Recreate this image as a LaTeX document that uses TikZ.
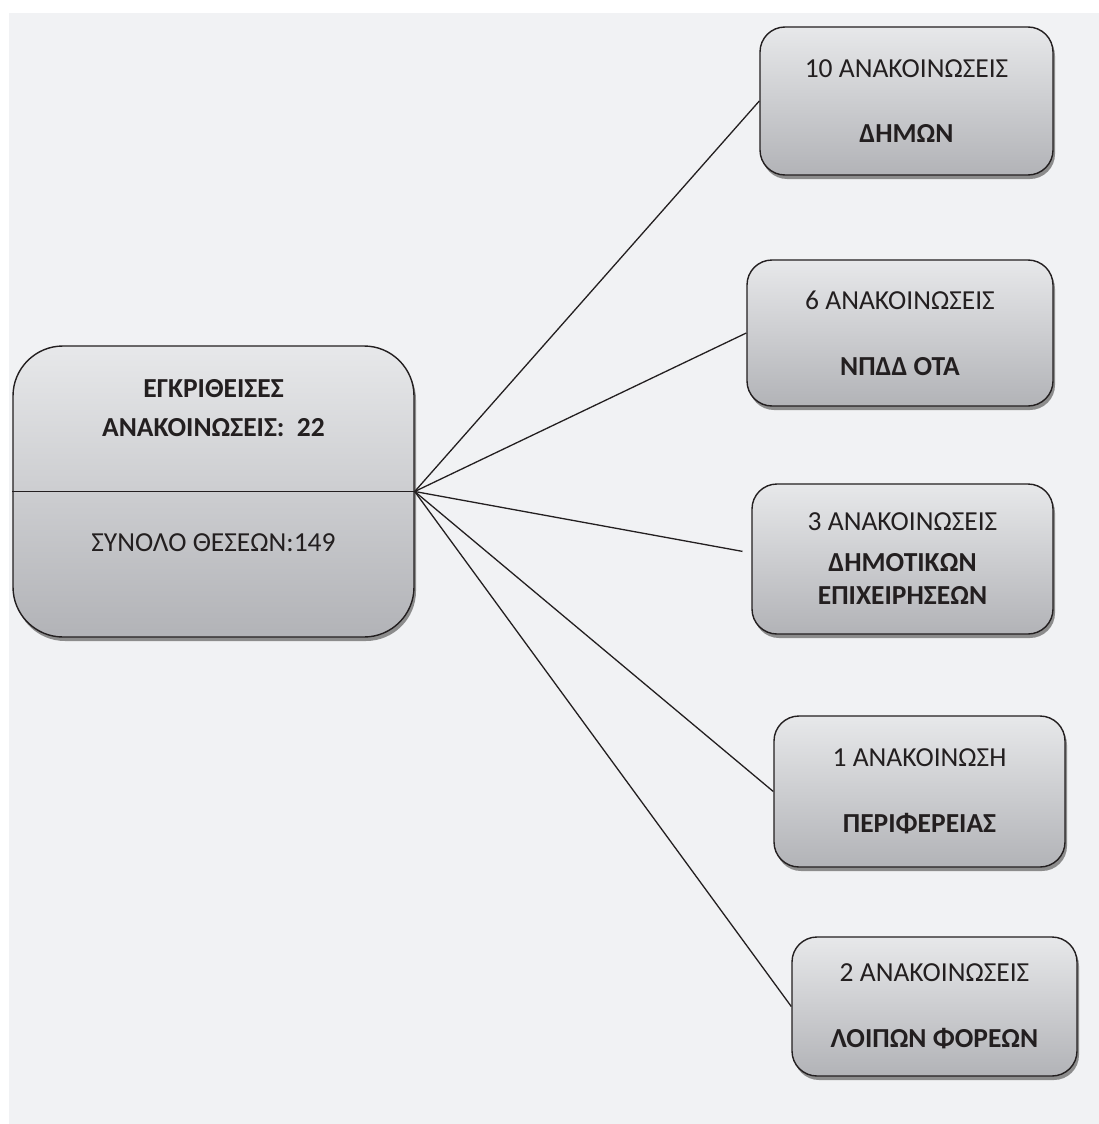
\documentclass[tikz,border=0pt]{standalone}
\usepackage{fontspec}
\setmainfont{Carlito}
\usepackage{xcolor}
\usetikzlibrary{shadows}
\definecolor{panel}{HTML}{F1F2F4}
\definecolor{boxtop}{HTML}{E7E8EA}
\definecolor{boxbot}{HTML}{B2B3B7}
\definecolor{ink}{HTML}{231F20}
\tikzset{
  infobox/.style={draw=ink, line width=1.4pt, rounded corners=25pt, top color=boxtop, bottom color=boxbot,
    drop shadow={shadow xshift=2pt, shadow yshift=-4pt, fill=black!55, opacity=0.8},
    align=center, text=ink, font=\fontsize{27.5}{33}\selectfont, inner sep=0pt},
  link/.style={draw=ink, line width=1.3pt},
  lab/.style={text=ink, font=\fontsize{27.5}{33}\selectfont, align=center},
}

\begin{document}
\begin{tikzpicture}[x=1pt,y=-1pt]
% page and panel
\useasboundingbox (0,0) rectangle (1099,1124);
\fill[white] (0,0) rectangle (1099,1124);
\fill[panel] (9,13) rectangle (1099,1124);

% summary box
\node[infobox, rounded corners=50pt, minimum width=401pt, minimum height=291pt] (sum) at (213.5,491.5) {};
\draw[link] (sum.west) -- (sum.east);
\node[lab, font=\fontsize{27.5}{33}\selectfont\bfseries] (sumtop) at (213.5,408) {ΕΓΚΡΙΘΕΙΣΕΣ\\[6pt]ΑΝΑΚΟΙΝΩΣΕΙΣ:~ 22};
\node[lab] (sumbot) at (213.5,543) {ΣΥΝΟΛΟ ΘΕΣΕΩΝ:149};

% announcement boxes
\node[infobox, minimum width=293pt, minimum height=148pt] (dimon) at (906.5,101) {10 ΑΝΑΚΟΙΝΩΣΕΙΣ\\[32pt]\textbf{ΔΗΜΩΝ}};
\node[infobox, minimum width=306pt, minimum height=146pt] (npdd) at (900,333) {6 ΑΝΑΚΟΙΝΩΣΕΙΣ\\[33pt]\textbf{ΝΠΔΔ ΟΤΑ}};
\node[infobox, minimum width=301pt, minimum height=150pt] (epix) at (902.5,559) {3 ΑΝΑΚΟΙΝΩΣΕΙΣ\\[8pt]\textbf{ΔΗΜΟΤΙΚΩΝ}\\[0pt]\textbf{ΕΠΙΧΕΙΡΗΣΕΩΝ}};
\node[infobox, minimum width=291pt, minimum height=151pt] (perif) at (919.5,791.5) {1 ΑΝΑΚΟΙΝΩΣΗ\\[33pt]\textbf{ΠΕΡΙΦΕΡΕΙΑΣ}};
\node[infobox, minimum width=285pt, minimum height=139pt] (loipoi) at (934.5,1006.5) {2 ΑΝΑΚΟΙΝΩΣΕΙΣ\\[33pt]\textbf{ΛΟΙΠΩΝ ΦΟΡΕΩΝ}};

% links
\draw[link] (sum.east) -- (dimon.west);
\draw[link] (sum.east) -- (npdd.west);
\draw[link, shorten >=9pt] (sum.east) -- ([yshift=6pt]epix.west);
\draw[link] (sum.east) -- (perif.west);
\draw[link] (sum.east) -- (loipoi.west);
\end{tikzpicture}
\end{document}
